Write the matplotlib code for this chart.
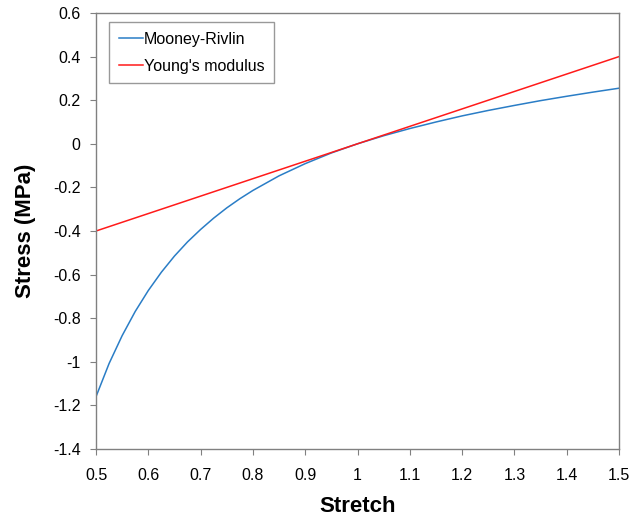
import numpy as np
import matplotlib
matplotlib.use("Agg")
import matplotlib.pyplot as plt

plt.rcParams['font.family'] = ['Liberation Sans', 'DejaVu Sans']

# values
stretch = [0.5, 0.525, 0.55, 0.575, 0.6, 0.625, 0.65, 0.675, 0.7, 0.725, 0.75, 0.775,
           0.8, 0.85, 0.9, 0.95, 1.0,
           1.05, 1.1, 1.15, 1.2, 1.25, 1.3, 1.35, 1.4, 1.45, 1.5]
mooney_rivlin = [-1.16, -1.008, -0.88, -0.769, -0.673, -0.589, -0.515, -0.450, -0.393, -0.341, -0.294, -0.252,
                 -0.214, -0.147, -0.091, -0.042, 0.0,
                 0.037, 0.070, 0.100, 0.128, 0.153, 0.176, 0.198, 0.218, 0.237, 0.255]
youngs_x = [0.5, 0.75, 1.0, 1.25, 1.5]
youngs = [-0.4, -0.2, 0.0, 0.2, 0.4]

x_ticks = [0.5, 0.6, 0.7, 0.8, 0.9, 1.0, 1.1, 1.2, 1.3, 1.4, 1.5]
x_labels = ["0.5", "0.6", "0.7", "0.8", "0.9", "1", "1.1", "1.2", "1.3", "1.4", "1.5"]
y_ticks = [-1.4, -1.2, -1.0, -0.8, -0.6, -0.4, -0.2, 0.0, 0.2, 0.4, 0.6]
y_labels = ["-1.4", "-1.2", "-1", "-0.8", "-0.6", "-0.4", "-0.2", "0", "0.2", "0.4", "0.6"]

fig = plt.figure(figsize=(6.31, 5.19), dpi=100)
ax = fig.add_axes([96/631, 1-449/519, 523/631, 436/519])

ax.plot(stretch, mooney_rivlin, color='#2a7dc6', lw=1.1, label='Mooney-Rivlin')
ax.plot(youngs_x, youngs, color='#ff1a1a', lw=1.1, label="Young's modulus")

ax.set_xlim(0.5, 1.5)
ax.set_ylim(-1.4, 0.6)
ax.set_xticks(x_ticks)
ax.set_xticklabels(x_labels)
ax.set_yticks(y_ticks)
ax.set_yticklabels(y_labels)
ax.tick_params(direction='out', length=4, width=0.8, color='#808080',
               labelsize=11.5)
ax.tick_params(axis='x', pad=10)
ax.tick_params(axis='y', pad=7)

for s in ax.spines.values():
    s.set_color('#808080')
    s.set_linewidth(1.0)

ax.set_xlabel('Stretch', fontsize=16, fontweight='bold', labelpad=9)
ax.set_ylabel('Stress (MPa)', fontsize=16, fontweight='bold', labelpad=12)

leg = ax.legend(loc='upper left', bbox_to_anchor=(0.025, 0.979), borderaxespad=0,
                fontsize=11.5, frameon=True, fancybox=False, edgecolor='#808080',
                handlelength=1.5, handletextpad=0.1, labelspacing=0.75,
                borderpad=0.6)
leg.get_frame().set_linewidth(1.0)

fig.savefig('out.png', dpi=100)
